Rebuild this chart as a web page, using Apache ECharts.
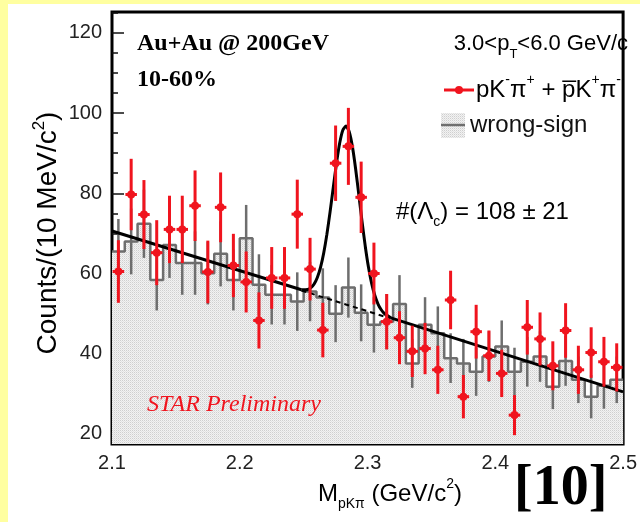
<!DOCTYPE html>
<html>
<head>
<meta charset="utf-8">
<script src="https://cdn.jsdelivr.net/npm/echarts@6/dist/echarts.min.js"></script>
<style>
  html, body { margin: 0; padding: 0; background: #fff; }
  #chart { width: 640px; height: 522px; }
</style>
</head>
<body>
<div id="chart"></div>
<script>
// bin centres (10 MeV bins), GeV/c^2
const binCenters = [
  2.105, 2.115, 2.125, 2.135, 2.145, 2.155, 2.165, 2.175, 2.185, 2.195,
  2.205, 2.215, 2.225, 2.235, 2.245, 2.255, 2.265, 2.275, 2.285, 2.295,
  2.305, 2.315, 2.325, 2.335, 2.345, 2.355, 2.365, 2.375, 2.385, 2.395,
  2.405, 2.415, 2.425, 2.435, 2.445, 2.455, 2.465, 2.475, 2.485, 2.495
]
const binWidth = 0.01

// right-sign pairs  pK-pi+ + pbarK+pi-
const rsCounts = [
  60.5, 79.7, 74.7, 65.2, 71.0, 71.0, 76.9, 60.4, 76.5, 62.0,
  57.9, 48.3, 58.9, 58.9, 74.8, 61.1, 45.9, 87.5, 91.7, 79.0,
  60.0, 48.0, 44.0, 40.6, 41.3, 36.0, 53.4, 29.3, 45.5, 39.5,
  35.1, 24.7, 46.6, 43.7, 37.0, 45.8, 36.0, 40.3, 38.0, 36.6
]
const rsErrors = [
  7.8, 8.9, 8.6, 8.1, 8.4, 8.4, 8.8, 7.8, 8.7, 7.9,
  7.6, 7.0, 7.7, 7.7, 8.6, 7.8, 6.8, 9.4, 9.6, 8.9,
  7.7, 6.9, 6.6, 6.4, 6.4, 6.0, 7.3, 5.4, 6.7, 6.3,
  5.9, 5.0, 6.8, 6.6, 6.1, 6.8, 6.0, 6.3, 6.2, 6.0
]

// wrong-sign background
const wsCounts = [
  65.5, 68.0, 72.4, 58.4, 67.1, 62.6, 62.6, 60.1, 64.9, 58.4,
  68.8, 57.2, 54.7, 54.7, 53.0, 55.5, 54.0, 50.0, 56.5, 50.2,
  47.2, 48.0, 52.4, 37.6, 47.2, 45.1, 38.9, 37.6, 35.5, 39.3,
  41.8, 35.5, 38.0, 39.3, 31.8, 38.2, 33.5, 29.3, 32.0, 33.5
]
const wsErrors = [
  8.1, 8.2, 8.5, 7.6, 8.2, 7.9, 7.9, 7.8, 8.1, 7.6,
  8.3, 7.6, 7.4, 7.4, 7.3, 7.4, 7.3, 7.1, 7.5, 7.1,
  6.9, 6.9, 7.2, 6.1, 6.9, 6.7, 6.2, 6.1, 6.0, 6.3,
  6.5, 6.0, 6.2, 6.3, 5.6, 6.2, 5.8, 5.4, 5.7, 5.8
]

// fit curve: straight background pieces + the peak
const fitLeftMass = [2.100, 2.2482]
const fitLeftValue = [70.6, 55.95]
const peakMass = [2.2482, 2.2532, 2.2557, 2.2582, 2.2607, 2.2632, 2.2657, 2.2682, 2.2707,
  2.2732, 2.2757, 2.2782, 2.2807, 2.2832, 2.2857, 2.2882, 2.2907, 2.2932, 2.2957,
  2.2982, 2.3007, 2.3032, 2.3057, 2.3082, 2.3107, 2.3132, 2.3182]
const peakValue = [55.95, 56.03, 56.47, 57.40, 59.01, 61.53, 65.13, 69.82, 75.44,
  81.55, 87.51, 92.52, 95.79, 96.78, 95.29, 91.52, 86.01, 79.55, 72.94,
  66.82, 61.63, 57.53, 54.51, 52.40, 50.97, 50.03, 48.95]
const fitRightMass = [2.3182, 2.500]
const fitRightValue = [48.95, 30.5]
const bgMass = [2.2482, 2.3182]
const bgValue = [55.78, 48.78]

const xMajor = [2.1, 2.2, 2.3, 2.4, 2.5]
const xMinor = [2.12, 2.14, 2.16, 2.18, 2.22, 2.24, 2.26, 2.28, 2.32, 2.34, 2.36, 2.38, 2.42, 2.44, 2.46, 2.48]
const yMajor = [20, 40, 60, 80, 100, 120]
const yMinor = [25, 30, 35, 45, 50, 55, 65, 70, 75, 85, 90, 95, 105, 110, 115, 125]

const SANS = 'Liberation Sans, Arial, sans-serif'
const SERIF = 'Liberation Serif, Times New Roman, serif'
const RED = '#f0141e'
const GREY = '#6e6e6e'

// dotted grey fill like the ROOT hatch
const tile = document.createElement('canvas')
tile.width = 2
tile.height = 2
const tctx = tile.getContext('2d')
tctx.fillStyle = '#f2f2f2'
tctx.fillRect(0, 0, 2, 2)
tctx.fillStyle = '#cfcfcf'
tctx.fillRect(0, 0, 1, 1)
tctx.fillStyle = '#e2e2e2'
tctx.fillRect(1, 1, 1, 1)
const FILL = { image: tile, repeat: 'repeat' }

const chart = echarts.init(document.getElementById('chart'))

// step outline of the wrong-sign histogram (left edges + closing edge)
const wsStep = wsCounts.map((v, i) => [binCenters[i] - binWidth / 2, v])
wsStep.push([binCenters[binCenters.length - 1] + binWidth / 2, wsCounts[wsCounts.length - 1]])

const redItem = (params, api) => {
  const m = api.value(0), v = api.value(1), e = api.value(2)
  const c = api.coord([m, v])
  const top = api.coord([m, v + e])
  const bot = api.coord([m, v - e])
  const l = api.coord([m - binWidth * 0.45, v])
  const r = api.coord([m + binWidth * 0.45, v])
  return {
    type: 'group',
    children: [
      { type: 'line', shape: { x1: c[0], y1: top[1], x2: c[0], y2: bot[1] }, style: { stroke: RED, lineWidth: 3 } },
      { type: 'line', shape: { x1: l[0], y1: c[1], x2: r[0], y2: c[1] }, style: { stroke: RED, lineWidth: 3 } },
      { type: 'circle', shape: { cx: c[0], cy: c[1], r: 4 }, style: { fill: RED } }
    ]
  }
}

const greyItem = (params, api) => {
  const m = api.value(0), v = api.value(1), e = api.value(2)
  const top = api.coord([m, v + e])
  const bot = api.coord([m, v - e])
  return { type: 'line', shape: { x1: top[0], y1: top[1], x2: bot[0], y2: bot[1] }, style: { stroke: GREY, lineWidth: 2.5 } }
}

const fitLine = (name, mass, vals, extra) => Object.assign({
  name: name,
  type: 'line',
  data: mass.map((m, i) => [m, vals[i]]),
  symbol: 'none',
  lineStyle: { color: '#000', width: 3 },
  z: 5
}, extra)

const txt = (x, y, text, extra) => ({
  type: 'text', x: x, y: y, z: 100,
  style: Object.assign({ text: text, textVerticalAlign: 'middle', textAlign: 'left' }, extra)
})

// rich text helpers for super/subscripts
const richSans = (size, color) => ({
  m: { fontFamily: SANS, fontSize: size, color: color, lineHeight: 34, verticalAlign: 'middle' },
  sp: { fontFamily: SANS, fontSize: Math.round(size * 0.6), color: color, lineHeight: 16, verticalAlign: 'top' },
  sb: { fontFamily: SANS, fontSize: Math.round(size * 0.6), color: color, lineHeight: 14, verticalAlign: 'bottom' }
})

const option = {
  animation: false,
  backgroundColor: '#ffffff',
  grid: {
    left: 112, right: 9, top: 12, bottom: 78,
    show: true, borderColor: '#000', borderWidth: 3, backgroundColor: '#fff'
  },
  xAxis: [
    {
      type: 'value', min: 2.1, max: 2.5,
      axisLine: { show: false },
      axisTick: { show: true, inside: true, length: 12, customValues: xMajor, lineStyle: { color: '#111', width: 1.5 } },
      axisLabel: {
        customValues: xMajor, margin: 9, fontSize: 20, fontFamily: SANS, color: '#222',
        formatter: v => v.toFixed(1)
      },
      splitLine: { show: false }
    },
    {
      type: 'value', min: 2.1, max: 2.5, position: 'bottom',
      axisLine: { show: false },
      axisTick: { show: true, inside: true, length: 6, customValues: xMinor, lineStyle: { color: '#111', width: 1.5 } },
      axisLabel: { show: false },
      splitLine: { show: false }
    }
  ],
  yAxis: [
    {
      type: 'value', min: 17.5, max: 125.2,
      axisLine: { show: false },
      axisTick: { show: true, inside: true, length: 12, customValues: yMajor, lineStyle: { color: '#111', width: 1.5 } },
      axisLabel: { customValues: yMajor, margin: 10, fontSize: 20, fontFamily: SANS, color: '#222' },
      splitLine: { show: false }
    },
    {
      type: 'value', min: 17.5, max: 125.2, position: 'left',
      axisLine: { show: false },
      axisTick: { show: true, inside: true, length: 6, customValues: yMinor, lineStyle: { color: '#111', width: 1.5 } },
      axisLabel: { show: false },
      splitLine: { show: false }
    }
  ],
  series: [
    {
      name: 'wrong-sign',
      type: 'line',
      step: 'end',
      data: wsStep,
      symbol: 'none',
      lineStyle: { color: GREY, width: 2.5 },
      areaStyle: { color: FILL, origin: 'start', opacity: 1 },
      z: 2
    },
    {
      name: 'wrong-sign err',
      type: 'custom',
      renderItem: greyItem,
      data: binCenters.map((m, i) => [m, wsCounts[i], wsErrors[i]]),
      encode: { x: 0, y: 1 },
      z: 3
    },
    fitLine('bg', bgMass, bgValue, { lineStyle: { color: '#000', width: 2, type: [5, 4] }, z: 4 }),
    fitLine('fit left', fitLeftMass, fitLeftValue),
    fitLine('fit peak', peakMass, peakValue, { smooth: 0.2 }),
    fitLine('fit right', fitRightMass, fitRightValue),
    {
      name: 'pKpi',
      type: 'custom',
      renderItem: redItem,
      data: binCenters.map((m, i) => [m, rsCounts[i], rsErrors[i]]),
      encode: { x: 0, y: 1 },
      z: 6
    }
  ],
  graphic: [
    // yellow slide strips
    { type: 'rect', shape: { x: 0, y: 0, width: 640, height: 4 }, style: { fill: '#ffffa0' }, z: 0 },
    { type: 'rect', shape: { x: 0, y: 0, width: 8, height: 522 }, style: { fill: '#ffffa0' }, z: 0 },

    txt(137, 44, 'Au+Au @ 200GeV', { fontFamily: SERIF, fontSize: 24, fontWeight: 'bold', fill: '#000' }),
    txt(137, 80, '10-60%', { fontFamily: SERIF, fontSize: 24, fontWeight: 'bold', fill: '#000' }),
    txt(628, 44, '{m|3.0<p}{sb|T}{m|<6.0 GeV/c}', { textAlign: 'right', rich: richSans(22, '#111') }),

    // legend
    { type: 'line', shape: { x1: 444, y1: 90, x2: 474, y2: 90 }, style: { stroke: RED, lineWidth: 3 }, z: 100 },
    { type: 'circle', shape: { cx: 459, cy: 90, r: 4 }, style: { fill: RED }, z: 100 },
    txt(476, 90, '{m|pK}{sp|-}{m|π}{sp|+}{m| + p\u0305K}{sp|+}{m|π}{sp|-}', { rich: richSans(24, '#111') }),
    { type: 'rect', shape: { x: 441, y: 113, width: 24, height: 25 }, style: { fill: FILL }, z: 100 },
    { type: 'line', shape: { x1: 441, y1: 125, x2: 465, y2: 125 }, style: { stroke: GREY, lineWidth: 2.5 }, z: 100 },
    txt(470, 125, 'wrong-sign', { fontFamily: SANS, fontSize: 24, fill: '#111' }),

    txt(396, 212, '{m|#(Λ}{sb|c}{m|) = 108 ± 21}', { rich: richSans(24, RED) }),
    txt(147, 405, 'STAR Preliminary', { fontFamily: SERIF, fontSize: 24, fontStyle: 'italic', fill: RED }),

    // axis titles
    Object.assign(txt(48, 233, '{m|Counts/(10 MeV/c}{sp|2}{m|)}', { textAlign: 'center', rich: richSans(28, '#111') }), { rotation: Math.PI / 2 }),
    txt(318, 494, '{m|M}{sb|pKπ}{m| (GeV/c}{sp|2}{m|)}', { rich: richSans(24, '#111') }),
    txt(514, 490, '[10]', { fontFamily: SERIF, fontSize: 56, fontWeight: 'bold', fill: '#000' })
  ]
}

chart.setOption(option)
</script>
</body>
</html>
